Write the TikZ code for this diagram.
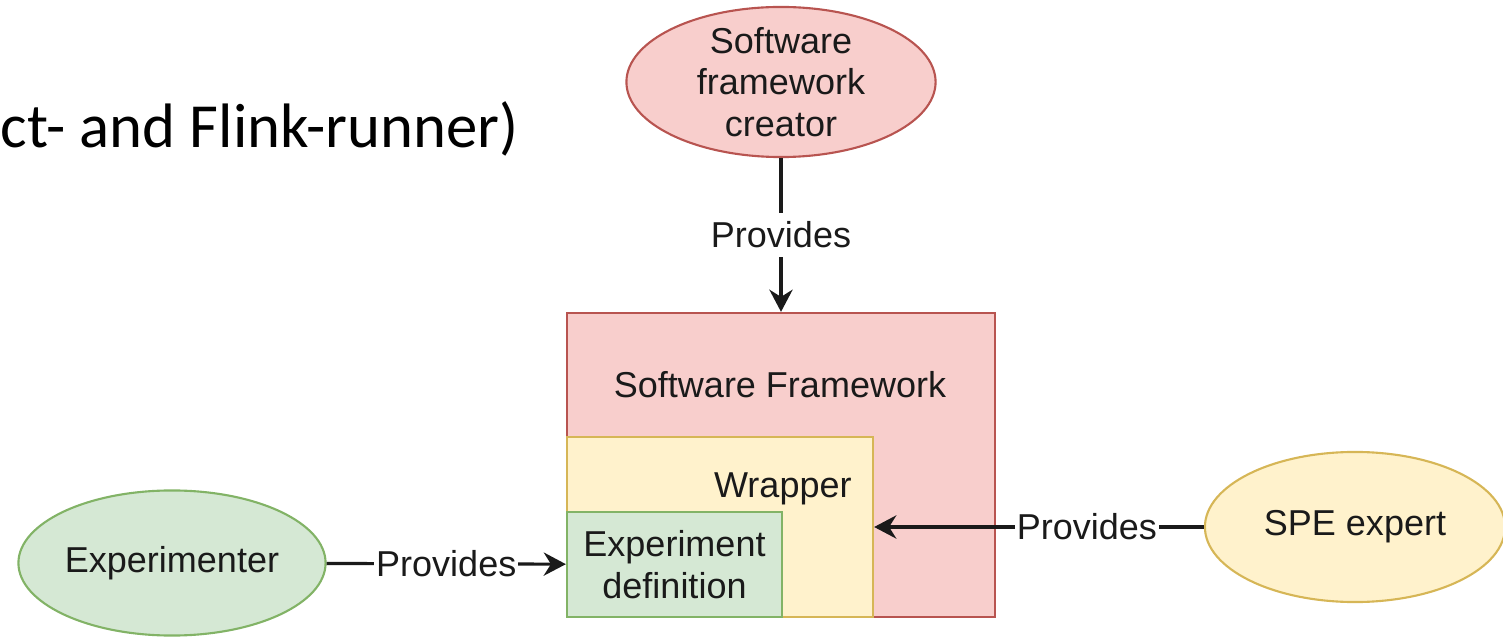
\documentclass[tikz,border=0pt]{standalone}
\usepackage{fontspec}
\setmainfont{Liberation Sans}
\newfontfamily\slidefont{Carlito}
\usetikzlibrary{shapes.geometric,arrows.meta}
\definecolor{redfill}{HTML}{F8CECC}
\definecolor{redline}{HTML}{B85450}
\definecolor{yellowfill}{HTML}{FFF2CC}
\definecolor{yellowline}{HTML}{D6B656}
\definecolor{greenfill}{HTML}{D5E8D4}
\definecolor{greenline}{HTML}{82B366}
\definecolor{ink}{HTML}{1A1A1A}

\begin{document}
\begin{tikzpicture}[x=0.01cm, y=-0.01cm,
	font=\fontsize{10.24pt}{11.8pt}\selectfont, text=ink,
	actor/.style={ellipse, draw=#1line, fill=#1fill, line width=0.6pt, inner sep=0pt},
	box/.style={rectangle, draw=#1line, fill=#1fill, line width=0.6pt, inner sep=0pt},
	provides/.style={fill=white, inner xsep=0.5pt, inner ysep=2.5pt},
	arr/.style={-{Stealth[length=6.3pt, width=6.6pt]}, line width=0.9pt, draw=ink}]
	\useasboundingbox (0,0) rectangle (1503,637);
	% slide title (cut off)
	\node[anchor=base west, inner sep=0pt, text=black, font=\slidefont\fontsize{17.85pt}{20pt}\selectfont] (title) at (0,148) {ct- and Flink-runner)};
	% nested boxes
	\node[box=red, minimum width=4.28cm, minimum height=3.04cm] (fw) at (781,465) {};
	\node[anchor=base] (fwname) at (780,398) {Software Framework};
	\node[box=yellow, minimum width=3.06cm, minimum height=1.8cm] (wrap) at (720,527) {};
	\node[anchor=base east] (wrapname) at (864,498) {Wrapper};
	\node[box=green, minimum width=2.15cm, minimum height=1.05cm, align=center] (expdef) at (674.5,564.5) {Experiment\\definition};
	% roles
	\node[actor=red, minimum width=3.09cm, minimum height=1.5cm, label={[align=center]center:Software\\framework\\creator}] (creator) at (781,82) {};
	\node[actor=green, minimum width=3.07cm, minimum height=1.45cm, label=center:Experimenter] (exp) at (172,563) {};
	\node[actor=yellow, minimum width=3.0cm, minimum height=1.5cm, label=center:SPE expert] (spe) at (1355,527) {};
	% provides
	\draw[arr] (creator) -- node[provides] {Provides} (fw);
	\draw[arr] (exp) -- node[provides] {Provides} (expdef);
	\draw[arr] (spe) -- node[provides, pos=0.355] {Provides} (wrap);
\end{tikzpicture}
\end{document}
